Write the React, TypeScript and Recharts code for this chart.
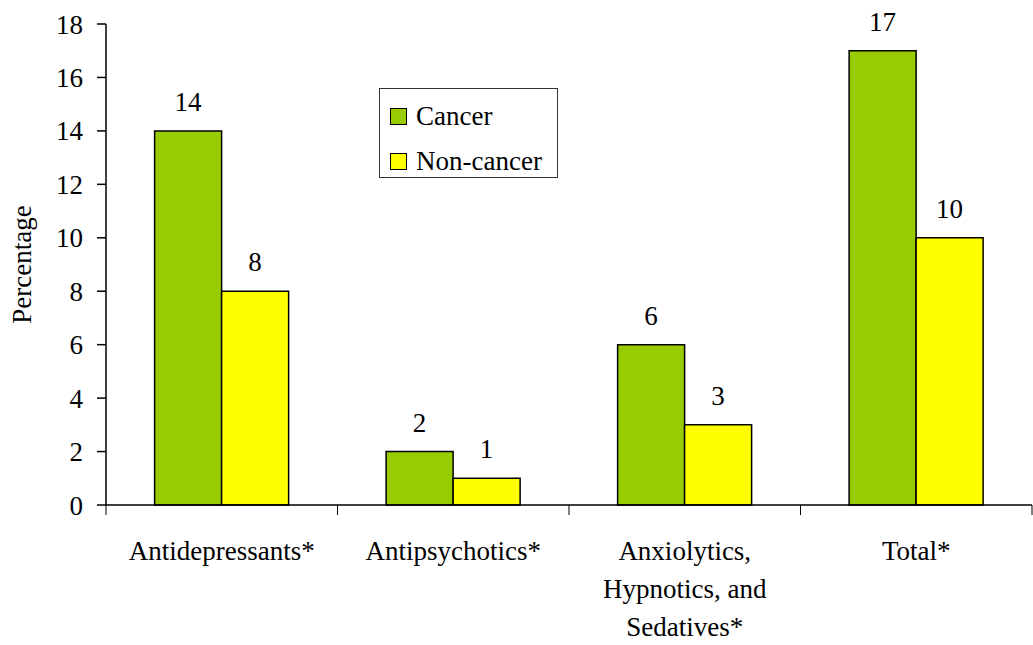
import React from "react";
import { Bar, BarChart, LabelList, XAxis, YAxis } from "recharts";

// Psychotropic drug use, cancer vs non-cancer patients (%)
const categories = [
  "Antidepressants*",
  "Antipsychotics*",
  "Anxiolytics, Hypnotics, and Sedatives*",
  "Total*",
];
const categoryLines: string[][] = [
  ["Antidepressants*"],
  ["Antipsychotics*"],
  ["Anxiolytics,", "Hypnotics, and", "Sedatives*"],
  ["Total*"],
];
const cancer = [14, 2, 6, 17];
const nonCancer = [8, 1, 3, 10];
const yTicks = [0, 2, 4, 6, 8, 10, 12, 14, 16, 18];
const seriesNames = ["Cancer", "Non-cancer"];

const data = categories.map((name, i) => ({
  name,
  cancer: cancer[i],
  nonCancer: nonCancer[i],
}));

const FONT =
  "'Times New Roman', Times, Tinos, 'Liberation Serif', 'DejaVu Serif', 'Noto Serif', FreeSerif, serif";
const GREEN = "#99CC00";
const YELLOW = "#FFFF00";

const W = 1033;
const H = 645;
const MARGIN = { top: 24, right: 1, left: 0, bottom: 0 };
const Y_AXIS_W = 106;
const X_AXIS_H = 140;
const BAND = (W - MARGIN.left - MARGIN.right - Y_AXIS_W) / categories.length;

// category label + boundary tick marks below the axis
function CategoryTick(props: any) {
  const { x, y, index } = props;
  const lines = categoryLines[index] ?? [String(props.payload?.value)];
  const left = x - BAND / 2;
  const right = x + BAND / 2;
  return (
    <g>
      <line x1={left} y1={y} x2={left} y2={y + 10} stroke="#000" strokeWidth={1} />
      {index === categories.length - 1 && (
        <line x1={right} y1={y} x2={right} y2={y + 10} stroke="#000" strokeWidth={1} />
      )}
      <text x={x} y={y} textAnchor="middle" style={{ fontFamily: FONT }} fontSize={27} fill="#000">
        {lines.map((l, i) => (
          <tspan key={i} x={x} dy={i === 0 ? 55 : 38}>
            {l}
          </tspan>
        ))}
      </text>
    </g>
  );
}

function YLabel(props: any) {
  const vb = props.viewBox ?? { x: 0, y: 0, height: 0 };
  const cx = 31;
  const cy = vb.y + vb.height / 2;
  return (
    <text
      x={cx}
      y={cy}
      transform={`rotate(-90, ${cx}, ${cy})`}
      textAnchor="middle"
      style={{ fontFamily: FONT }}
      fontSize={27}
      fill="#000"
    >
      Percentage
    </text>
  );
}

function LegendBox() {
  const colors = [GREEN, YELLOW];
  return (
    <div
      style={{
        position: "absolute",
        left: 379,
        top: 88,
        border: "1.5px solid #333",
        background: "#fff",
        width: 179,
        height: 90,
        boxSizing: "border-box",
        paddingTop: 9,
        paddingLeft: 10,
        fontFamily: FONT,
        fontSize: 27,
        lineHeight: "36px",
        color: "#000",
      }}
    >
      {seriesNames.map((label, i) => (
        <div key={label} style={{ display: "flex", alignItems: "center", height: 36, marginBottom: 9 }}>
          <span
            style={{
              display: "inline-block",
              width: 15,
              height: 15,
              background: colors[i],
              border: "1.5px solid #000",
              marginRight: 9,
            }}
          />
          <span>{label}</span>
        </div>
      ))}
    </div>
  );
}

const textStyle = { fontSize: 27, fontFamily: FONT, fill: "#000" };

export default function App() {
  return (
    <div style={{ position: "absolute", left: 0, top: 0, width: W, height: H, background: "#fff" }}>
      <BarChart
        width={W}
        height={H}
        data={data}
        margin={MARGIN}
        barCategoryGap="21%"
        barGap={0}
        style={{ fontFamily: FONT }}
      >
        <XAxis
          dataKey="name"
          height={X_AXIS_H}
          axisLine={{ stroke: "#000", strokeWidth: 1.5 }}
          tickLine={false}
          tickSize={0}
          tickMargin={0}
          interval={0}
          tick={<CategoryTick />}
        />
        <YAxis
          width={Y_AXIS_W}
          domain={[0, 18]}
          ticks={yTicks}
          interval={0}
          axisLine={{ stroke: "#000", strokeWidth: 1.5 }}
          tickLine={{ stroke: "#000", strokeWidth: 1.5 }}
          tickSize={9}
          tickMargin={14}
          tick={textStyle}
          label={<YLabel />}
        />
        <Bar
          dataKey="cancer"
          name={seriesNames[0]}
          fill={GREEN}
          stroke="#000"
          strokeWidth={1.5}
          isAnimationActive={false}
        >
          <LabelList dataKey="cancer" position="top" offset={20} style={textStyle} />
        </Bar>
        <Bar
          dataKey="nonCancer"
          name={seriesNames[1]}
          fill={YELLOW}
          stroke="#000"
          strokeWidth={1.5}
          isAnimationActive={false}
        >
          <LabelList dataKey="nonCancer" position="top" offset={20} style={textStyle} />
        </Bar>
      </BarChart>
      <LegendBox />
    </div>
  );
}
